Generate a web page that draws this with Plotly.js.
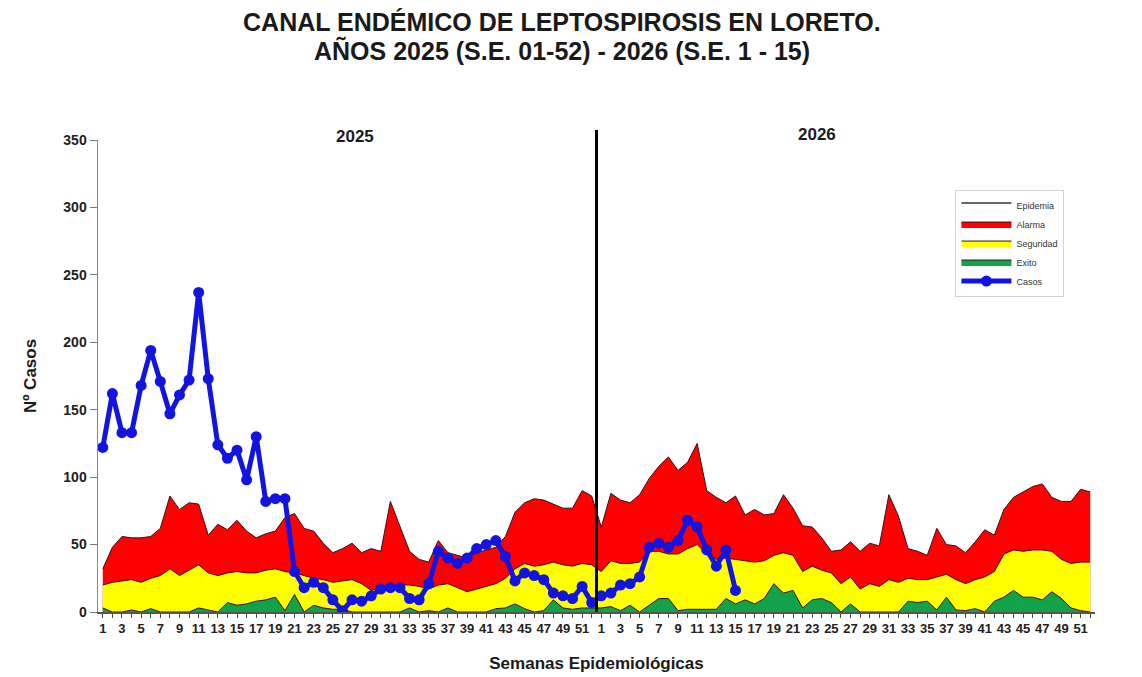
<!DOCTYPE html>
<html>
<head>
<meta charset="utf-8">
<script src="https://cdn.plot.ly/plotly-3.0.1.min.js"></script>
<style>html,body{margin:0;padding:0;background:#fff;}</style>
</head>
<body>
<div id="chart" style="width:1142px;height:677px;"></div>
<script>
// ---- Data ----
const years = ['2025', '2026'];
const weeksPerYear = 52;
const titleLine1 = 'CANAL ENDÉMICO DE LEPTOSPIROSIS EN LORETO.';
const titleLine2 = 'AÑOS 2025 (S.E. 01-52) - 2026 (S.E. 1 - 15)';

// Upper limit of "Alarma" zone (red)
const alarma2025 = [32,48,56,55,55,56,62,86,76,81,80,57,65,61,68,60,55,58,60,70,73,62,60,51,44,47,
                    51,44,47,45,82,63,45,39,37,53,44,42,40,44,46,48,56,74,81,84,83,80,77,77,90,86];
const alarma2026 = [63,88,83,81,87,99,108,115,105,111,125,90,85,81,86,72,76,72,73,87,77,64,63,55,45,46,52,
                    45,51,49,87,71,47,45,42,62,50,49,44,52,61,57,76,85,89,93,95,85,82,82,91,89];

// Upper limit of "Seguridad" zone (yellow)
const seguridad2025 = [20,22,23,24,22,25,27,32,27,31,35,29,27,29,30,29,29,31,32,30,29,27,25,24,22,23,
                       24,21,16,18,19,20,20,19,17,20,21,18,15,17,19,21,25,32,36,34,35,37,35,34,36,35];
const seguridad2026 = [30,38,36,36,37,45,45,43,43,47,50,43,39,40,39,38,37,38,42,44,42,30,34,31,29,21,26,
                       17,21,19,24,22,25,24,24,26,28,24,21,24,26,30,43,46,45,46,46,45,39,36,37,37];

// Upper limit of "Exito" zone (green)
const exito2025 = [3,0,0,1.5,0,2.5,0,0,0,0,3,1.5,0,7,5,6,8,9,11,1,13,0,5,3,2,2,
                   0,0,0,0,0,0,3,0,1,0,3,0,0,0,0,2.5,3,6,2.5,0,1,9,3,2,3,3];
const exito2026 = [3,4,1,5,0,5,10,10,1,2,2,2,2,10,6,9,6,10,21,14,16,3,9,10,7,0,6,
                   0,0,0,0,0,8,7,8,1.5,11,1.5,1,2.5,0,8,11,16,11,11,9,15,10,3,1,0];

// Reported cases
const casos2025 = [122,162,133,133,168,194,171,147,161,172,237,173,124,114,120,98,130,82,84,84,30,18,22,18,9,1,
                   9,8,12,17,18,18,10,9,21,45,40,36,40,47,50,53,41,23,29,27,24,14,12,10,19,7];
const casos2026 = [12,14,20,21,26,48,51,48,53,68,63,46,34,46,16];

const seriesNames = ['Epidemia', 'Alarma', 'Seguridad', 'Exito', 'Casos'];

// ---- Build continuous x positions (week index over both years) ----
const xAll = [];
const tickVals = [];
const tickText = [];
for (let y = 0; y < years.length; y++) {
  for (let w = 1; w <= weeksPerYear; w++) {
    const idx = y * weeksPerYear + w;
    xAll.push(idx);
    tickVals.push(idx);
    tickText.push(w % 2 === 1 ? String(w) : '');
  }
}
const alarma = alarma2025.concat(alarma2026);
const seguridad = seguridad2025.concat(seguridad2026);
const exito = exito2025.concat(exito2026);
const casos = casos2025.concat(casos2026);
const xCasos = xAll.slice(0, casos.length);
// Epidemia zone: everything above the alarm band (white, off-scale top)
const epidemiaTop = xAll.map(() => 1000);

const edge = {color: '#3a1010', width: 1};

const traces = [
  {name: seriesNames[0], x: xAll, y: epidemiaTop, type: 'scatter', mode: 'lines',
   fill: 'tozeroy', fillcolor: '#ffffff', line: {color: '#333333', width: 1.5}, hoverinfo: 'skip'},
  {name: seriesNames[1], x: xAll, y: alarma, type: 'scatter', mode: 'lines',
   fill: 'tozeroy', fillcolor: '#ff0000', line: edge},
  {name: seriesNames[2], x: xAll, y: seguridad, type: 'scatter', mode: 'lines',
   fill: 'tozeroy', fillcolor: '#ffff00', line: edge},
  {name: seriesNames[3], x: xAll, y: exito, type: 'scatter', mode: 'lines',
   fill: 'tozeroy', fillcolor: '#12a24a', line: edge},
  {name: seriesNames[4], x: xCasos, y: casos, type: 'scatter', mode: 'lines+markers',
   line: {color: '#1414e0', width: 5}, marker: {color: '#1414e0', size: 11}}
];

const bold = 'bold';
const layout = {
  width: 1142, height: 677, autosize: false,
  margin: {l: 98, r: 47, t: 140, b: 65},
  paper_bgcolor: '#ffffff', plot_bgcolor: '#ffffff',
  font: {family: 'Liberation Sans, Arial, sans-serif', color: '#1a1a1a'},
  title: {
    text: titleLine1,
    font: {size: 25, weight: bold, color: '#1a1a1a'},
    x: 0.492, xanchor: 'center', xref: 'container',
    y: 1 - 22 / 677, yanchor: 'middle', yref: 'container'
  },
  showlegend: true,
  legend: {
    x: 0.86, y: 0.895, xanchor: 'left', yanchor: 'top',
    bgcolor: '#ffffff', bordercolor: '#d4d4d4', borderwidth: 1,
    font: {size: 9, color: '#333'}, itemwidth: 50, tracegroupgap: 0,
    traceorder: 'normal'
  },
  xaxis: {
    range: [0.5, 104.5], tickmode: 'array', tickvals: tickVals, ticktext: tickText,
    tickangle: 0, ticks: 'outside', ticklen: 4, tickcolor: '#444',
    showline: true, linecolor: '#555', linewidth: 1.5,
    showgrid: false, zeroline: false,
    tickfont: {size: 13, weight: bold, color: '#222'},
    title: {text: 'Semanas Epidemiológicas', font: {size: 17, weight: bold, color: '#1a1a1a'}, standoff: 22}
  },
  yaxis: {
    range: [0, 350], tickmode: 'linear', tick0: 0, dtick: 50,
    ticks: 'outside', ticklen: 7, tickcolor: '#777',
    showline: true, linecolor: '#888', linewidth: 1.5,
    showgrid: false, zeroline: false,
    tickfont: {size: 14, weight: bold, color: '#222'},
    title: {text: 'Nº Casos', font: {size: 17, weight: bold, color: '#1a1a1a'}, standoff: 22}
  },
  shapes: [
    {type: 'line', xref: 'x', yref: 'paper', x0: 52.5, x1: 52.5, y0: 0, y1: 1.021,
     line: {color: '#000000', width: 3}}
  ],
  annotations: [
    {text: titleLine2, xref: 'paper', yref: 'paper', x: (562 - 98) / 997, y: (612 - 50) / 472,
     xanchor: 'center', yanchor: 'middle', showarrow: false,
     font: {size: 25, weight: bold, color: '#1a1a1a'}},
    {text: years[0], xref: 'x', yref: 'paper', x: 27.3, y: (612 - 137) / 472, yanchor: 'middle', showarrow: false,
     font: {size: 17, weight: bold, color: '#1a1a1a'}},
    {text: years[1], xref: 'x', yref: 'paper', x: 75.5, y: (612 - 135) / 472, yanchor: 'middle', showarrow: false,
     font: {size: 17, weight: bold, color: '#1a1a1a'}}
  ]
};

Plotly.newPlot('chart', traces, layout, {displayModeBar: false, staticPlot: true});
</script>
</body>
</html>
